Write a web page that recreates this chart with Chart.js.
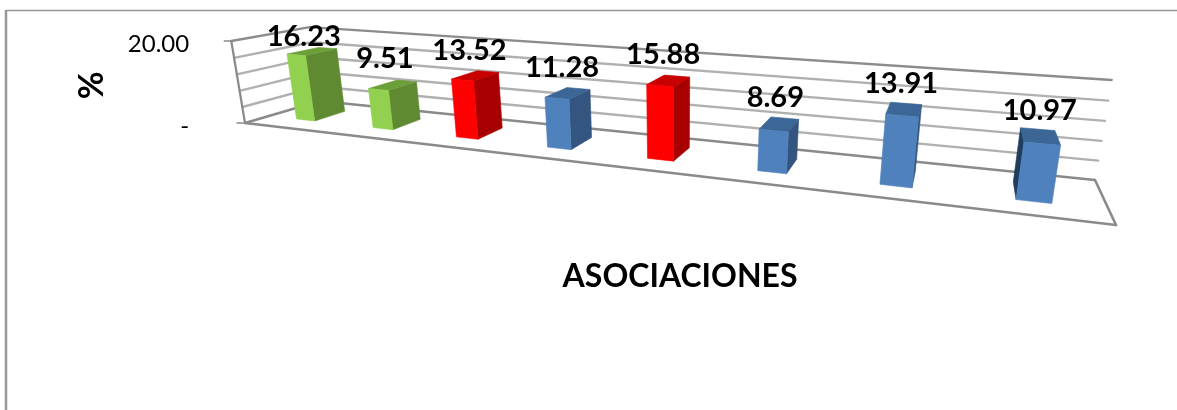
<!DOCTYPE html>
<html><head><meta charset="utf-8">
<style>html,body{margin:0;padding:0;background:#fff}#w{width:1177px;height:410px}</style>
<script src="https://cdn.jsdelivr.net/npm/chart.js@4"></script></head>
<body><div id="w"><canvas id="c" width="1177" height="410"></canvas></div>
<script>
const categories = ['A1','A2','A3','A4','A5','A6','A7','A8'];
const values = [16.23, 9.51, 13.52, 11.28, 15.88, 8.69, 13.91, 10.97];
const frontColors = ['#92D050','#92D050','#FF0000','#4F81BD','#FF0000','#4F81BD','#4F81BD','#4F81BD'];
const sideColors  = ['#5F8A32','#5F8A32','#A80000','#33557F','#A80000','#33557F','#33557F','#1F3D5F'];
const topColors   = ['#6C9E3A','#6C9E3A','#C80000','#3B6695','#C80000','#3B6695','#3B6695','#3B6695'];
const labelNudge = [[-8.5,-15],[-8,-26],[-6,-25],[-6,-26],[-5.5,-26],[-4,-26],[-3,-26],[0,-26]];
// camera calibration of the 3D box: u along categories, v along values, d into the depth
const box = {F00:[245,123],F10:[1116,225],B10:[1095,180],B00:[320,101],F01:[232,41],B01:[309,30],B11:[1112,76]};
const depthFront = 0.30, depthBack = 0.72, uWarp = 1.035;
function floorH(){
  const [x0,y0]=box.F00,[x1,y1]=box.F10,[x2,y2]=box.B10,[x3,y3]=box.B00;
  const dx1=x1-x2,dx2=x3-x2,dy1=y1-y2,dy2=y3-y2,sx=x0-x1+x2-x3,sy=y0-y1+y2-y3;
  const den=dx1*dy2-dx2*dy1,g=(sx*dy2-dx2*sy)/den,h=(dx1*sy-sx*dy1)/den;
  return [[x1-x0+g*x1,x3-x0+h*x3,x0],[y1-y0+g*y1,y3-y0+h*y3,y0],[g,h,1]];
}
const H=floorH();
function baseAt(u,d){return [H[0][0]*u+H[0][1]*d+H[0][2],H[1][0]*u+H[1][1]*d+H[1][2],H[2][0]*u+H[2][1]*d+H[2][2]];}
function solveQ(){
  const rows=[],rhs=[];
  [[0,0,box.F01],[0,1,box.B01],[1,1,box.B11]].forEach(([u,d,p])=>{
    const b=baseAt(u,d);
    rows.push([1,0,-p[0]]);rhs.push(p[0]*b[2]-b[0]);
    rows.push([0,1,-p[1]]);rhs.push(p[1]*b[2]-b[1]);
  });
  const A=[[0,0,0],[0,0,0],[0,0,0]],r=[0,0,0];
  rows.forEach((R,k)=>{for(let i=0;i<3;i++){r[i]+=R[i]*rhs[k];for(let j=0;j<3;j++)A[i][j]+=R[i]*R[j];}});
  for(let i=0;i<3;i++){
    let p=i;for(let k=i+1;k<3;k++)if(Math.abs(A[k][i])>Math.abs(A[p][i]))p=k;
    [A[i],A[p]]=[A[p],A[i]];[r[i],r[p]]=[r[p],r[i]];
    for(let k=0;k<3;k++)if(k!==i){const f=A[k][i]/A[i][i];for(let j=i;j<3;j++)A[k][j]-=f*A[i][j];r[k]-=f*r[i];}
  }
  return [r[0]/A[0][0],r[1]/A[1][1],r[2]/A[2][2]];
}
const Q=solveQ();
function P(u0,v,d){const u=u0/(u0+uWarp*(1-u0));const b=baseAt(u,d);const w=b[2]+Q[2]*v;return [(b[0]+Q[0]*v)/w,(b[1]+Q[1]*v)/w];}
function line(ctx,a,b,color,lw){ctx.beginPath();ctx.moveTo(a[0],a[1]);ctx.lineTo(b[0],b[1]);ctx.strokeStyle=color;ctx.lineWidth=lw;ctx.stroke();}
function poly(ctx,pts,color){ctx.beginPath();pts.forEach((p,i)=>i?ctx.lineTo(p[0],p[1]):ctx.moveTo(p[0],p[1]));ctx.closePath();ctx.fillStyle=color;ctx.strokeStyle=color;ctx.lineWidth=.6;ctx.fill();ctx.stroke();}
function facing(pts){let s=0;pts.forEach((p,i)=>{const q=pts[(i+1)%pts.length];s+=p[0]*q[1]-q[0]*p[1];});return s;}
const box3d={id:'box3d',
  beforeDraw(chart){
    const ctx=chart.ctx;ctx.save();
    ctx.fillStyle='#fff';ctx.fillRect(0,0,1177,410);
    line(ctx,[5,10.5],[1177,10.5],'#989898',1.5);
    line(ctx,[6,10],[6,410],'#989898',2.5);
    ctx.restore();
  },
  beforeDatasetsDraw(chart){
    const ctx=chart.ctx,y=chart.scales.y,a=chart.chartArea;ctx.save();ctx.lineCap='round';
    y.ticks.forEach(t=>{
      const v=(a.bottom-y.getPixelForValue(t.value))/a.height;
      if(v<=0.001)return;
      const c=(v>=0.999)?'#8C8C8C':'#B0B0B0';
      line(ctx,P(0,v,0),P(0,v,1),c,2.4);
      line(ctx,P(0,v,1),P(1,v,1),c,2.4);
    });
    const G='#8A8A8A';
    line(ctx,P(0,0,0),P(0,0,1),G,2.4);
    line(ctx,P(0,0,1),P(1,0,1),G,2.4);
    line(ctx,P(1,0,1),P(1,0,0),G,2.6);
    line(ctx,P(1,0,0),P(0,0,0),G,2.6);
    line(ctx,P(0,0,0),P(0,1,0),G,2.2);
    line(ctx,P(0,1,0),[P(0,1,0)[0]-7,P(0,1,0)[1]],G,1.5);
    line(ctx,P(0,0,0),[P(0,0,0)[0]-8,P(0,0,0)[1]],G,1.5);
    ctx.restore();
  },
  beforeDatasetDraw(chart,args){
    const ctx=chart.ctx,a=chart.chartArea;ctx.save();
    args.meta.data.forEach((el,i)=>{
      const p=el.getProps(['x','y','base','width'],true);
      const u0=(p.x-p.width/2-a.left)/a.width,u1=(p.x+p.width/2-a.left)/a.width;
      const v=(p.base-p.y)/a.height,d0=depthFront,d1=depthBack;
      const fbl=P(u0,0,d0),fbr=P(u1,0,d0),ftl=P(u0,v,d0),ftr=P(u1,v,d0);
      const bbl=P(u0,0,d1),bbr=P(u1,0,d1),btl=P(u0,v,d1),btr=P(u1,v,d1);
      const front=[fbl,fbr,ftr,ftl],left=[bbl,fbl,ftl,btl],right=[fbr,bbr,btr,ftr],top=[ftl,ftr,btr,btl];
      const s=facing(front);
      if(facing(left)*s>0)poly(ctx,left,sideColors[i]);
      if(facing(right)*s>0)poly(ctx,right,sideColors[i]);
      poly(ctx,top,topColors[i]);
      poly(ctx,front,frontColors[i]);
    });
    ctx.restore();
    return false;
  },
  afterDatasetsDraw(chart){
    const ctx=chart.ctx,a=chart.chartArea,meta=chart.getDatasetMeta(0);ctx.save();
    ctx.font='bold 29px Lato';ctx.fillStyle='#000';ctx.textAlign='center';ctx.textBaseline='middle';
    meta.data.forEach((el,i)=>{
      const p=el.getProps(['x','y','base'],true);
      const c=P((p.x-a.left)/a.width,(p.base-p.y)/a.height,(depthFront+depthBack)/2);
      ctx.fillText(values[i].toFixed(2),c[0]+labelNudge[i][0],c[1]+labelNudge[i][1]);
    });
    ctx.restore();
  }
};
new Chart(document.getElementById('c'),{
  type:'bar',
  data:{labels:categories,datasets:[{data:values,backgroundColor:frontColors,barPercentage:0.245,categoryPercentage:1}]},
  plugins:[box3d],
  options:{responsive:false,animation:false,
    layout:{padding:{top:44,left:72,right:22,bottom:114}},
    plugins:{legend:{display:false},tooltip:{enabled:false}},
    scales:{
      x:{grid:{display:false},border:{display:false},ticks:{display:false},
        title:{display:true,text:'ASOCIACIONES',color:'#000',font:{family:'Lato',size:32,weight:'bold'},padding:{top:123,bottom:0}}},
      y:{min:0,max:20,afterBuildTicks(s){s.ticks=[0,4,8,12,16,20].map(v=>({value:v}));},
        grid:{display:false},border:{display:false},
        ticks:{autoSkip:false,padding:8,color:'#000',font:{family:'Lato',size:24},
          callback(v){return v===20?'20.00':(v===0?'-':'');}},
        title:{display:true,text:'%',color:'#000',font:{family:'Lato',size:34,weight:'bold'},padding:{top:0,bottom:7}}}
    }
  }
});
</script></body></html>
